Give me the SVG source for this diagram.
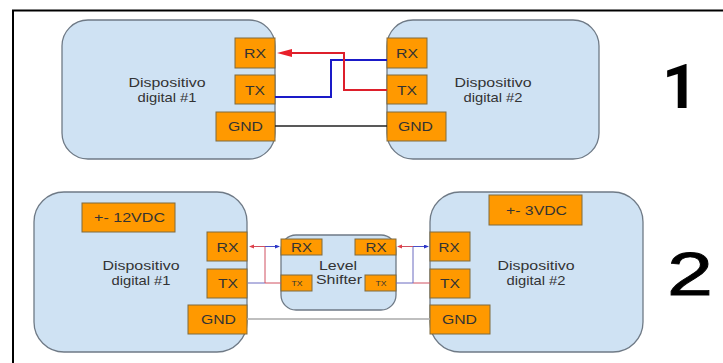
<svg xmlns="http://www.w3.org/2000/svg" width="723" height="363" viewBox="0 0 723 363">
<style>
.dev{fill:#cfe2f3;stroke:#6f7a86;stroke-width:1.3}
.pin{fill:#ff9900;stroke:#7f6a3f;stroke-width:1}
text{font-family:"Liberation Sans",Arial,sans-serif;fill:#333;text-anchor:middle}
.f13{font-size:13px}.f8{font-size:8px}
.num{font-size:62px;fill:#000}
</style>
<defs>
<marker id="ar" markerUnits="userSpaceOnUse" markerWidth="16" markerHeight="10" refX="0" refY="4" orient="auto"><path d="M0 0L15 4L0 8Z" fill="#e8202a"/></marker>
<marker id="sr" markerUnits="userSpaceOnUse" markerWidth="6" markerHeight="6" refX="0" refY="2" orient="auto"><path d="M0 0L5 2L0 4Z" fill="#e0404a"/></marker>
<marker id="sb" markerUnits="userSpaceOnUse" markerWidth="6" markerHeight="6" refX="0" refY="2" orient="auto"><path d="M0 0L5 2L0 4Z" fill="#2a35c8"/></marker>
</defs>
<rect width="723" height="363" fill="#fff"/>
<g id="frame"><path d="M13 363V10.500H723" fill="none" stroke="#000" stroke-width="2"/></g>
<g id="dev1a"><rect class="dev" x="62" y="20" width="213" height="139" rx="26"/><text class="f13" x="167" y="87" textLength="77" lengthAdjust="spacingAndGlyphs">Dispositivo</text><text class="f13" x="167" y="102" textLength="59" lengthAdjust="spacingAndGlyphs">digital #1</text></g>
<g id="dev1b"><rect class="dev" x="387" y="20" width="212" height="139" rx="26"/><text class="f13" x="493" y="87" textLength="77" lengthAdjust="spacingAndGlyphs">Dispositivo</text><text class="f13" x="493" y="102" textLength="59" lengthAdjust="spacingAndGlyphs">digital #2</text></g>
<g id="p1"><rect class="pin" x="235" y="38" width="40" height="30"/><text class="f13" x="255" y="58" textLength="22" lengthAdjust="spacingAndGlyphs">RX</text></g>
<g id="p2"><rect class="pin" x="235" y="75" width="40" height="29"/><text class="f13" x="255" y="95" textLength="20" lengthAdjust="spacingAndGlyphs">TX</text></g>
<g id="p3"><rect class="pin" x="216" y="112" width="59" height="29"/><text class="f13" x="245.500" y="131" textLength="35" lengthAdjust="spacingAndGlyphs">GND</text></g>
<g id="p4"><rect class="pin" x="387" y="38" width="40" height="30"/><text class="f13" x="407" y="58" textLength="22" lengthAdjust="spacingAndGlyphs">RX</text></g>
<g id="p5"><rect class="pin" x="387" y="75" width="40" height="29"/><text class="f13" x="407" y="95" textLength="20" lengthAdjust="spacingAndGlyphs">TX</text></g>
<g id="p6"><rect class="pin" x="387" y="112" width="59" height="29"/><text class="f13" x="415.500" y="131" textLength="35" lengthAdjust="spacingAndGlyphs">GND</text></g>
<g id="dev2a"><rect class="dev" x="34" y="192" width="213" height="160" rx="30"/><text class="f13" x="141" y="270" textLength="77" lengthAdjust="spacingAndGlyphs">Dispositivo</text><text class="f13" x="141" y="285" textLength="59" lengthAdjust="spacingAndGlyphs">digital #1</text></g>
<g id="dev2b"><rect class="dev" x="430" y="192" width="213" height="160" rx="30"/><text class="f13" x="536" y="270" textLength="77" lengthAdjust="spacingAndGlyphs">Dispositivo</text><text class="f13" x="536" y="285" textLength="59" lengthAdjust="spacingAndGlyphs">digital #2</text></g>
<g id="v12"><rect class="pin" x="82" y="203" width="93" height="29"/><text class="f13" x="129.500" y="222" textLength="71" lengthAdjust="spacingAndGlyphs">+- 12VDC</text></g>
<g id="v3"><rect class="pin" x="489" y="195" width="93" height="30"/><text class="f13" x="536.500" y="215" textLength="61" lengthAdjust="spacingAndGlyphs">+- 3VDC</text></g>
<g id="q1"><rect class="pin" x="207" y="232" width="40" height="29"/><text class="f13" x="227.500" y="252" textLength="22" lengthAdjust="spacingAndGlyphs">RX</text></g>
<g id="q2"><rect class="pin" x="207" y="269" width="40" height="29"/><text class="f13" x="228" y="288" textLength="20" lengthAdjust="spacingAndGlyphs">TX</text></g>
<g id="q3"><rect class="pin" x="188" y="305" width="59" height="29"/><text class="f13" x="218.500" y="324" textLength="35" lengthAdjust="spacingAndGlyphs">GND</text></g>
<g id="q4"><rect class="pin" x="430" y="232" width="40" height="29"/><text class="f13" x="449" y="252" textLength="21" lengthAdjust="spacingAndGlyphs">RX</text></g>
<g id="q5"><rect class="pin" x="430" y="269" width="40" height="29"/><text class="f13" x="450" y="288" textLength="20" lengthAdjust="spacingAndGlyphs">TX</text></g>
<g id="q6"><rect class="pin" x="430" y="305" width="60" height="29"/><text class="f13" x="459.500" y="324" textLength="35" lengthAdjust="spacingAndGlyphs">GND</text></g>
<g id="shifter"><rect class="dev" x="281" y="235" width="115" height="75" rx="15"/><text class="f13" x="338" y="270" textLength="38" lengthAdjust="spacingAndGlyphs">Level</text><text class="f13" x="339" y="284" textLength="46" lengthAdjust="spacingAndGlyphs">Shifter</text>
<rect class="pin" x="281" y="239" width="41" height="16"/><text class="f13" x="301.500" y="252" textLength="21" lengthAdjust="spacingAndGlyphs">RX</text>
<rect class="pin" x="355" y="239" width="41" height="16"/><text class="f13" x="376" y="252" textLength="21" lengthAdjust="spacingAndGlyphs">RX</text>
<rect class="pin" x="281" y="275" width="31" height="16"/><text class="f8" x="297" y="286" textLength="11" lengthAdjust="spacingAndGlyphs">TX</text>
<rect class="pin" x="365" y="275" width="31" height="16"/><text class="f8" x="381" y="286" textLength="11" lengthAdjust="spacingAndGlyphs">TX</text></g>
<g id="connectors">
<path d="M275 97H331V60H387" fill="none" stroke="#1a1ac8" stroke-width="2"/>
<path d="M387 90H344V53H292" fill="none" stroke="#dd1f2b" stroke-width="2" marker-end="url(#ar)"/>
<path d="M275 126H387" fill="none" stroke="#222" stroke-width="1.500"/>
<path d="M248 283H265" fill="none" stroke="#6a6ac0" stroke-width="1"/>
<path d="M265 283H281" fill="none" stroke="#d05060" stroke-width="1"/>
<path d="M265 283V246.500H254" fill="none" stroke="#d05060" stroke-width="1" marker-end="url(#sr)"/>
<path d="M265 246.500H275" fill="none" stroke="#4a50c8" stroke-width="1" marker-end="url(#sb)"/>
<path d="M396 283H413" fill="none" stroke="#6a6ac0" stroke-width="1"/>
<path d="M413 283H430" fill="none" stroke="#d05060" stroke-width="1"/>
<path d="M413 283V246.500" fill="none" stroke="#6a6ac0" stroke-width="1"/>
<path d="M413 246.500H402" fill="none" stroke="#d05060" stroke-width="1" marker-end="url(#sr)"/>
<path d="M413 246.500H424" fill="none" stroke="#4a50c8" stroke-width="1" marker-end="url(#sb)"/>
<path d="M247 319H430" fill="none" stroke="#aaa" stroke-width="1.500"/>
</g>
<text class="num" x="680" y="108" textLength="36" lengthAdjust="spacingAndGlyphs" style="font-family:Roboto,sans-serif;font-weight:700">1</text>
<text class="num" x="690" y="295" textLength="46" lengthAdjust="spacingAndGlyphs" style="stroke:#000;stroke-width:.8">2</text>
</svg>
